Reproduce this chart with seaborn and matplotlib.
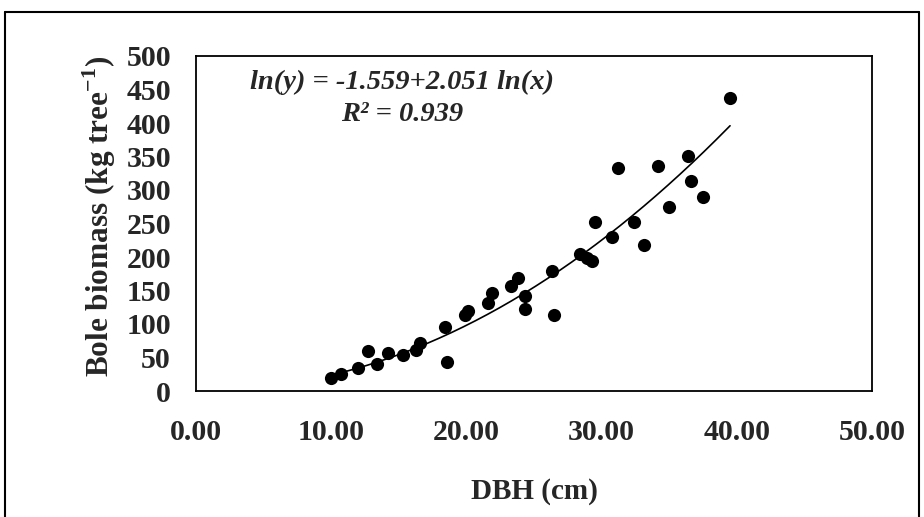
import numpy as np
import pandas as pd
import matplotlib
matplotlib.use("Agg")
import matplotlib.pyplot as plt
import seaborn as sns
from matplotlib.lines import Line2D

# Diameter at breast height (cm) and bole biomass (kg per tree)
dbh = [10.0, 10.7, 12.0, 12.75, 13.4, 14.2, 15.3, 16.3, 16.6, 18.4, 18.6,
       19.9, 20.1, 21.6, 21.9, 23.3, 23.8, 24.3, 24.3, 26.35, 26.5, 28.4,
       28.9, 29.3, 29.5, 30.8, 31.2, 32.4, 33.1, 34.2, 35.0, 36.4, 36.6,
       37.5, 39.5]
biomass = [19, 25, 35, 59, 41, 56, 53, 61, 72, 96, 43,
           114, 119, 131, 146, 156, 169, 142, 122, 179, 114, 205,
           198, 194, 252, 230, 333, 252, 218, 336, 275, 351, 314,
           290, 437]

# Fitted allometric model: ln(y) = a + b ln(x)
coef_a = -1.559
coef_b = 2.051
r_squared = 0.939

x_ticks = [0, 10, 20, 30, 40, 50]
x_tick_labels = ["0.00", "10.00", "20.00", "30.00", "40.00", "50.00"]
y_ticks = list(range(0, 501, 50))

df = pd.DataFrame({"DBH": dbh, "Biomass": biomass})
fit_x = np.linspace(min(dbh), max(dbh), 200)
fit_df = pd.DataFrame({"DBH": fit_x,
                       "Biomass": np.exp(coef_a + coef_b * np.log(fit_x))})

sns.set_theme(style="white")
plt.rcParams["font.family"] = ["Liberation Serif", "DejaVu Serif"]
plt.rcParams["mathtext.fontset"] = "custom"
plt.rcParams["mathtext.rm"] = "Liberation Serif"
plt.rcParams["mathtext.bf"] = "Liberation Serif:bold"

fig = plt.figure(figsize=(9.24, 5.17), dpi=100)
ax = fig.add_axes([196 / 924, 1 - 391 / 517, (872 - 196) / 924, (391 - 56) / 517])

sns.lineplot(data=fit_df, x="DBH", y="Biomass", ax=ax, color="black",
             linewidth=1.2)
sns.scatterplot(data=df, x="DBH", y="Biomass", ax=ax, color="black",
                s=90, edgecolor="black", linewidth=0, zorder=3)

ax.set_xlim(0, 50)
ax.set_ylim(0, 500)
ax.set_xticks(x_ticks)
ax.set_xticklabels(x_tick_labels)
ax.set_yticks(y_ticks)

for side in ["left", "bottom", "top", "right"]:
    ax.spines[side].set_visible(True)
    ax.spines[side].set_color("black")
    ax.spines[side].set_linewidth(1.3)

ax.tick_params(axis="both", which="major", direction="out", length=6,
               width=1.2, color="black", labelsize=21.5)
ax.tick_params(axis="y", pad=12)
ax.tick_params(axis="x", pad=14)
for lab in ax.get_xticklabels() + ax.get_yticklabels():
    lab.set_fontweight("bold")

ax.set_xlabel("DBH (cm)", fontsize=21, fontweight="bold", labelpad=23)
ax.set_ylabel("Bole biomass (kg tree$^{\\mathbf{-1}}$)", fontsize=22.5,
              fontweight="bold")
ax.yaxis.set_label_coords(-0.115, 0.52)

eq = f"ln(y) = {coef_a:.3f}+{coef_b:.3f} ln(x)"
ax.text(0.305, 0.92, eq, transform=ax.transAxes, ha="center", va="center",
        fontsize=20.5, fontstyle="italic", fontweight="bold")
ax.text(0.305, 0.825, f"R² = {r_squared:.3f}", transform=ax.transAxes,
        ha="center", va="center", fontsize=20.5, fontstyle="italic",
        fontweight="bold")

# Outer frame around the whole figure
frame_kw = dict(transform=fig.transFigure, color="black", linewidth=1.5)
fig.add_artist(Line2D([5 / 924, 5 / 924], [0, 1 - 12 / 517], **frame_kw))
fig.add_artist(Line2D([5 / 924, 919 / 924], [1 - 12 / 517, 1 - 12 / 517], **frame_kw))
fig.add_artist(Line2D([919 / 924, 919 / 924], [0, 1 - 12 / 517], **frame_kw))

fig.savefig("out.png", dpi=100)
